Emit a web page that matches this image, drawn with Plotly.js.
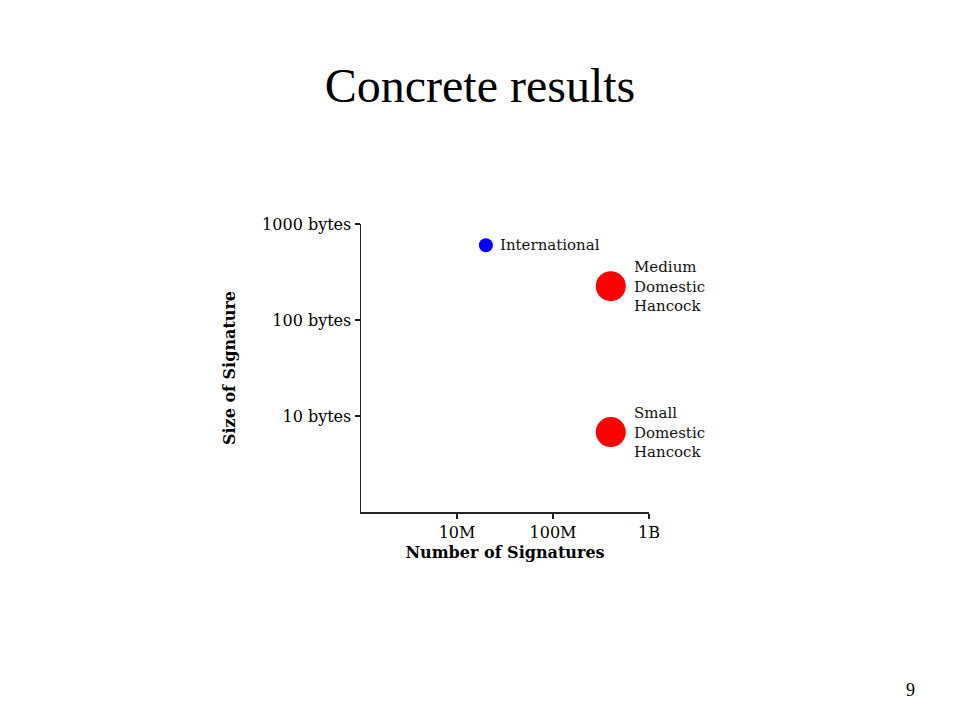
<!DOCTYPE html>
<html>
<head>
<meta charset="utf-8">
<script src="https://cdn.plot.ly/plotly-3.0.1.min.js"></script>
<style>html,body{margin:0;padding:0;background:#fff;}#chart{width:960px;height:720px;}</style>
</head>
<body>
<div id="chart"></div>
<script>
// Data
const groups = ["International", "Medium<br>Domestic<br>Hancock", "Small<br>Domestic<br>Hancock"];
const numSignatures = [2.0e7, 4.0e8, 4.0e8];
const sigSizeBytes = [600, 225, 6.8];
const markerColors = ["#0000ff", "#ff0000", "#ff0000"];
const markerSizes = [14, 30, 30];

const xTickVals = [1e7, 1e8, 1e9];
const xTickText = ["10M", "100M", "1B"];
const yTickVals = [10, 100, 1000];
const yTickText = ["10 bytes", "100 bytes", "1000 bytes"];

const trace = {
  type: "scatter",
  mode: "markers",
  x: numSignatures,
  y: sigSizeBytes,
  marker: {color: markerColors, size: markerSizes, opacity: 1, line: {width: 0}},
  hoverinfo: "none",
  cliponaxis: false
};

const labelShifts = [12, 21, 21];
const labelAnnotations = groups.map((g, i) => ({
  text: g,
  x: Math.log10(numSignatures[i]),
  y: Math.log10(sigSizeBytes[i]),
  xref: "x", yref: "y",
  xanchor: "left", yanchor: "middle", align: "left",
  xshift: labelShifts[i], yshift: 0,
  showarrow: false,
  font: {family: "DejaVu Serif", size: 15, color: "#111"}
}));

const tickFont = {family: "DejaVu Serif", size: 16, color: "#000"};
const titleFont = {family: "DejaVu Serif", size: 16, color: "#000", weight: "bold"};

const layout = {
  width: 960, height: 720,
  paper_bgcolor: "#fff", plot_bgcolor: "#fff",
  margin: {l: 361, r: 311, t: 224, b: 208},
  showlegend: false,
  title: {
    text: "Concrete results",
    font: {family: "Liberation Serif", size: 48, color: "#000"},
    x: 0.5, xanchor: "center", xref: "container",
    y: 0.881, yanchor: "middle", yref: "container"
  },
  xaxis: {
    type: "log", range: [6, 9],
    tickvals: xTickVals, ticktext: xTickText,
    ticks: "outside", ticklen: 5, tickcolor: "#222", tickwidth: 1.5,
    showline: true, linecolor: "#222", linewidth: 1.5,
    showgrid: false, zeroline: false,
    tickfont: tickFont,
    title: {text: "Number of Signatures", font: titleFont, standoff: 6}
  },
  yaxis: {
    type: "log", range: [0, 3],
    tickvals: yTickVals, ticktext: yTickText,
    ticks: "outside", ticklen: 5, tickcolor: "#222", tickwidth: 1.5,
    showline: true, linecolor: "#222", linewidth: 1.5,
    showgrid: false, zeroline: false,
    tickfont: tickFont,
    title: {text: "Size of Signature", font: titleFont, standoff: 22}
  },
  annotations: labelAnnotations.concat([{
    text: "9", xref: "paper", yref: "paper",
    x: (910 - 361) / 288, y: (512 - 690) / 288,
    xanchor: "center", yanchor: "middle", showarrow: false,
    font: {family: "Liberation Serif", size: 18, color: "#000"}
  }])
};

Plotly.newPlot("chart", [trace], layout, {staticPlot: true, displayModeBar: false});
</script>
</body>
</html>
